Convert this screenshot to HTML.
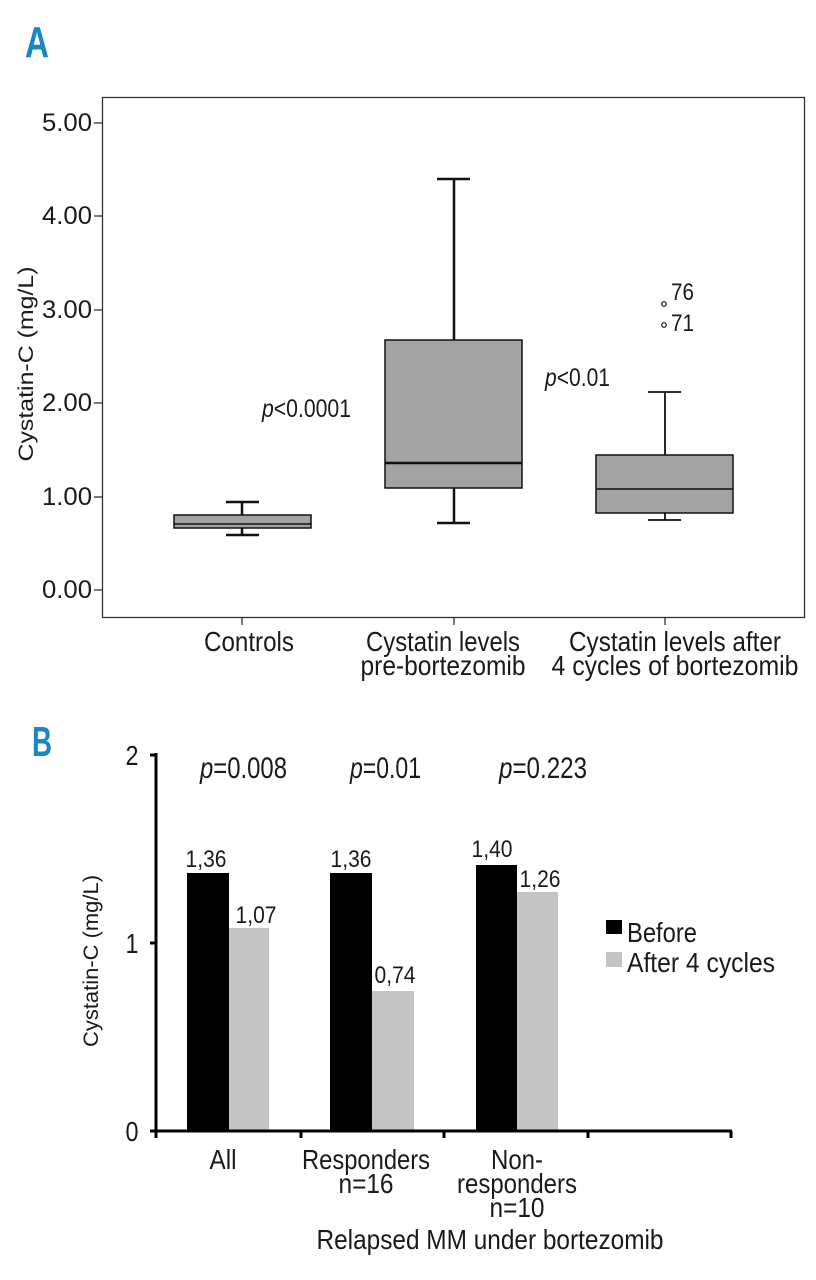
<!DOCTYPE html>
<html><head><meta charset="utf-8"><style>
body{margin:0;background:#fff}
svg{display:block}
text{font-family:"Liberation Sans",sans-serif;fill:#1a1a1a}
</style></head><body>
<svg width="816" height="1280" viewBox="0 0 816 1280" xmlns="http://www.w3.org/2000/svg">
<!-- Panel A -->
<text x="25" y="57" font-size="44" font-weight="bold" style="fill:#1a87c4" textLength="24" lengthAdjust="spacingAndGlyphs">A</text>
<rect x="102.5" y="97.5" width="702" height="520" fill="none" stroke="#333" stroke-width="1.3"/>
<g stroke="#333" stroke-width="1.3">
<line x1="94" y1="123" x2="102" y2="123"/><line x1="94" y1="216" x2="102" y2="216"/>
<line x1="94" y1="310" x2="102" y2="310"/><line x1="94" y1="403" x2="102" y2="403"/>
<line x1="94" y1="497" x2="102" y2="497"/><line x1="94" y1="590" x2="102" y2="590"/>
<line x1="242" y1="618" x2="242" y2="625"/><line x1="454" y1="618" x2="454" y2="625"/><line x1="665" y1="618" x2="665" y2="625"/>
</g>
<g font-size="25" text-anchor="end">
<text x="92" y="131" textLength="50" lengthAdjust="spacingAndGlyphs">5.00</text>
<text x="92" y="224" textLength="50" lengthAdjust="spacingAndGlyphs">4.00</text>
<text x="92" y="318" textLength="50" lengthAdjust="spacingAndGlyphs">3.00</text>
<text x="92" y="411" textLength="50" lengthAdjust="spacingAndGlyphs">2.00</text>
<text x="92" y="505" textLength="50" lengthAdjust="spacingAndGlyphs">1.00</text>
<text x="92" y="598" textLength="50" lengthAdjust="spacingAndGlyphs">0.00</text>
</g>
<text transform="translate(33,364) rotate(-90)" font-size="21" text-anchor="middle" textLength="195" lengthAdjust="spacingAndGlyphs">Cystatin-C (mg/L)</text>
<!-- boxes -->
<g stroke="#111" fill="#a3a3a3" stroke-width="1.5">
<line x1="242" y1="502" x2="242" y2="515" stroke-width="2.5"/><line x1="242" y1="528" x2="242" y2="535" stroke-width="2.5"/>
<line x1="226" y1="502" x2="259" y2="502" stroke-width="2.5"/><line x1="226" y1="535" x2="259" y2="535" stroke-width="2.5"/>
<rect x="174" y="515" width="137" height="13"/>
<line x1="174" y1="524" x2="311" y2="524" stroke-width="1.5"/>
<line x1="454" y1="179" x2="454" y2="340" stroke-width="2.5"/><line x1="454" y1="488" x2="454" y2="523" stroke-width="2.5"/>
<line x1="437" y1="179" x2="470" y2="179" stroke-width="2.5"/><line x1="437" y1="523" x2="470" y2="523" stroke-width="2.5"/>
<rect x="385" y="340" width="137" height="148"/>
<line x1="385" y1="463" x2="522" y2="463" stroke-width="2.5"/>
<line x1="665" y1="392" x2="665" y2="455" stroke-width="1.8"/><line x1="665" y1="513" x2="665" y2="520" stroke-width="1.8"/>
<line x1="648" y1="392" x2="681" y2="392" stroke-width="1.8"/><line x1="648" y1="520" x2="681" y2="520" stroke-width="1.8"/>
<rect x="596" y="455" width="137" height="58"/>
<line x1="596" y1="489" x2="733" y2="489" stroke-width="1.5"/>
<circle cx="664" cy="304" r="2.3" fill="#fff" stroke-width="1.2"/>
<circle cx="664" cy="325" r="2.3" fill="#fff" stroke-width="1.2"/>
</g>
<text x="671" y="300" font-size="24" textLength="23" lengthAdjust="spacingAndGlyphs">76</text>
<text x="671" y="331" font-size="24" textLength="23" lengthAdjust="spacingAndGlyphs">71</text>
<text x="262" y="417" font-size="25" textLength="89" lengthAdjust="spacingAndGlyphs"><tspan font-style="italic">p</tspan>&lt;0.0001</text>
<text x="545" y="386" font-size="25" textLength="65" lengthAdjust="spacingAndGlyphs"><tspan font-style="italic">p</tspan>&lt;0.01</text>
<g font-size="28" text-anchor="middle">
<text x="249" y="651" textLength="90" lengthAdjust="spacingAndGlyphs">Controls</text>
<text x="443" y="651" textLength="154" lengthAdjust="spacingAndGlyphs">Cystatin levels</text>
<text x="443" y="675" textLength="165" lengthAdjust="spacingAndGlyphs">pre-bortezomib</text>
<text x="675" y="651" textLength="212" lengthAdjust="spacingAndGlyphs">Cystatin levels after</text>
<text x="675" y="675" textLength="247" lengthAdjust="spacingAndGlyphs">4 cycles of bortezomib</text>
</g>
<!-- Panel B -->
<text x="32" y="756" font-size="42" font-weight="bold" style="fill:#1a87c4" textLength="20" lengthAdjust="spacingAndGlyphs">B</text>
<g fill="#000">
<rect x="187" y="873" width="42" height="258"/>
<rect x="330" y="873" width="42" height="258"/>
<rect x="476" y="865" width="41" height="266"/>
</g>
<g fill="#c4c4c4">
<rect x="229" y="928" width="40" height="203"/>
<rect x="372" y="991" width="42" height="140"/>
<rect x="517" y="892" width="41" height="239"/>
</g>
<g stroke="#000" stroke-width="3">
<line x1="156" y1="753" x2="156" y2="1138"/>
<line x1="150" y1="755" x2="156" y2="755"/><line x1="150" y1="943" x2="156" y2="943"/><line x1="150" y1="1131" x2="156" y2="1131"/>
<line x1="156" y1="1131" x2="732" y2="1131"/>
<line x1="301" y1="1131" x2="301" y2="1138"/><line x1="444" y1="1131" x2="444" y2="1138"/><line x1="588" y1="1131" x2="588" y2="1138"/><line x1="731" y1="1131" x2="731" y2="1138"/>
</g>
<g font-size="28" text-anchor="middle">
<text x="132" y="765" textLength="13" lengthAdjust="spacingAndGlyphs">2</text>
<text x="132" y="953" textLength="13" lengthAdjust="spacingAndGlyphs">1</text>
<text x="132" y="1141" textLength="13" lengthAdjust="spacingAndGlyphs">0</text>
</g>
<text transform="translate(98,961) rotate(-90)" font-size="21" text-anchor="middle" textLength="172" lengthAdjust="spacingAndGlyphs">Cystatin-C (mg/L)</text>
<g font-size="30">
<text x="200" y="778" textLength="87" lengthAdjust="spacingAndGlyphs"><tspan font-style="italic">p</tspan>=0.008</text>
<text x="350" y="778" textLength="71" lengthAdjust="spacingAndGlyphs"><tspan font-style="italic">p</tspan>=0.01</text>
<text x="499" y="778" textLength="88" lengthAdjust="spacingAndGlyphs"><tspan font-style="italic">p</tspan>=0.223</text>
</g>
<g font-size="24" text-anchor="middle">
<text x="206" y="867" textLength="41" lengthAdjust="spacingAndGlyphs">1,36</text>
<text x="256" y="923" textLength="41" lengthAdjust="spacingAndGlyphs">1,07</text>
<text x="351" y="867" textLength="41" lengthAdjust="spacingAndGlyphs">1,36</text>
<text x="395" y="983" textLength="41" lengthAdjust="spacingAndGlyphs">0,74</text>
<text x="492" y="857" textLength="41" lengthAdjust="spacingAndGlyphs">1,40</text>
<text x="540" y="887" textLength="41" lengthAdjust="spacingAndGlyphs">1,26</text>
</g>
<rect x="606" y="920" width="16" height="14" fill="#000"/>
<rect x="606" y="952" width="16" height="15" fill="#c4c4c4"/>
<text x="627" y="942" font-size="28" textLength="70" lengthAdjust="spacingAndGlyphs">Before</text>
<text x="627" y="972" font-size="28" textLength="148" lengthAdjust="spacingAndGlyphs">After 4 cycles</text>
<g font-size="28" text-anchor="middle">
<text x="223" y="1169" textLength="27" lengthAdjust="spacingAndGlyphs">All</text>
<text x="366" y="1169" textLength="128" lengthAdjust="spacingAndGlyphs">Responders</text>
<text x="366" y="1193" textLength="55" lengthAdjust="spacingAndGlyphs">n=16</text>
<text x="517" y="1169" textLength="52" lengthAdjust="spacingAndGlyphs">Non-</text>
<text x="517" y="1193" textLength="120" lengthAdjust="spacingAndGlyphs">responders</text>
<text x="517" y="1217" textLength="55" lengthAdjust="spacingAndGlyphs">n=10</text>
<text x="490" y="1249" textLength="347" lengthAdjust="spacingAndGlyphs">Relapsed MM under bortezomib</text>
</g>
</svg>
</body></html>
